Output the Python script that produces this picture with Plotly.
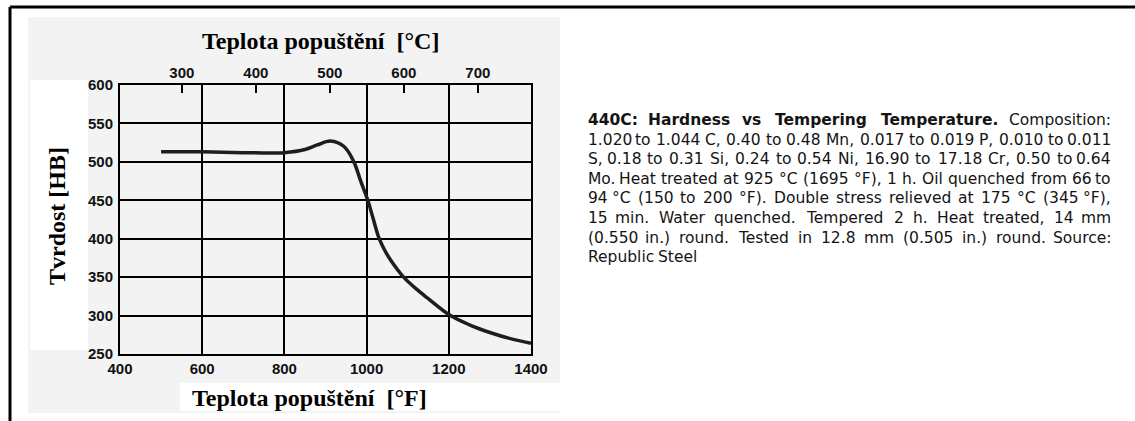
import plotly.graph_objects as go

# Hardness curve of 440C stainless steel vs tempering temperature
temp_f = [500, 600, 700, 800, 850, 880, 912, 945, 969, 985, 1003, 1015, 1030, 1045, 1060, 1075, 1090, 1120, 1150, 1201, 1250, 1300, 1350, 1400]
hardness_hb = [513, 513, 512, 512, 516, 522, 527, 520, 500, 476, 450, 428, 401, 384, 371, 360, 350, 335, 322, 301, 288, 278, 270, 264]

x_ticks_f = [400, 600, 800, 1000, 1200, 1400]
y_ticks_hb = [250, 300, 350, 400, 450, 500, 550, 600]
top_ticks_c = [300, 400, 500, 600, 700]

title_top = "Teplota popuštění  [°C]"
title_bottom = "Teplota popuštění  [°F]"
title_left = "Tvrdost [HB]"

caption_bold = "440C: Hardness vs Tempering Temperature."
caption_lines = [
    "440C: Hardness vs Tempering Temperature. Composition:",
    "1.020 to 1.044 C, 0.40 to 0.48 Mn, 0.017 to 0.019 P, 0.010 to 0.011",
    "S, 0.18 to 0.31 Si, 0.24 to 0.54 Ni, 16.90 to 17.18 Cr, 0.50 to 0.64",
    "Mo. Heat treated at 925 °C (1695 °F), 1 h. Oil quenched from 66 to",
    "94 °C (150 to 200 °F). Double stress relieved at 175 °C (345 °F),",
    "15 min. Water quenched. Tempered 2 h. Heat treated, 14 mm",
    "(0.550 in.) round. Tested in 12.8 mm (0.505 in.) round. Source:",
    "Republic Steel",
]

# page geometry (pixels)
W, H = 1135, 421
L, R, T, B = 120, 531, 85, 354


def px(xp):
    return (xp - L) / (R - L)


def py(yp):
    return (B - yp) / (B - T)


# approximate DejaVu Sans advance widths (em) used to justify the caption
ADV = {" ": .318, ".": .318, ",": .318, ":": .337, "(": .390, ")": .390, "°": .5,
       "A": .684, "C": .698, "D": .770, "F": .575, "H": .752, "M": .863, "N": .748,
       "O": .787, "P": .603, "R": .695, "S": .635, "T": .611, "W": .989,
       "a": .613, "b": .635, "c": .550, "d": .635, "e": .615, "f": .352, "g": .635,
       "h": .634, "i": .278, "k": .579, "l": .278, "m": .974, "n": .634, "o": .612,
       "p": .635, "q": .635, "r": .411, "s": .521, "t": .392, "u": .634, "v": .592,
       "w": .818, "x": .592, "y": .592, "z": .525}
ADV_B = {".": .380, ":": .400, "C": .734, "H": .837, "T": .682, "a": .675, "d": .716,
         "e": .678, "g": .716, "i": .343, "m": 1.042, "n": .712, "p": .716, "r": .493,
         "s": .595, "t": .478, "u": .712, "v": .652}


def word_width(word, size, bold=False):
    total = 0.0
    for ch in word:
        if ch.isdigit():
            total += .696 if bold else .636
        elif bold and ch in ADV_B:
            total += ADV_B[ch]
        else:
            total += ADV.get(ch, .6)
    return total * size


fig = go.Figure()
fig.add_trace(go.Scatter(
    x=temp_f, y=hardness_hb, mode="lines",
    line=dict(color="#1e1e1e", width=3.5, shape="spline", smoothing=1.0),
    hoverinfo="skip", showlegend=False,
))
# invisible trace carrying the Celsius axis
fig.add_trace(go.Scatter(x=[300], y=[400], xaxis="x2", mode="markers",
                         marker=dict(opacity=0), hoverinfo="skip", showlegend=False))

tick_font = dict(family="Liberation Sans, Arial", size=15, color="#111", weight="bold")
serif = dict(family="Liberation Serif, Times New Roman", size=24, color="#000", weight="bold")

fig.update_layout(
    width=W, height=H, autosize=False,
    margin=dict(l=L, r=W - R, t=T, b=H - B, pad=0),
    paper_bgcolor="white", plot_bgcolor="#f4f4f4",
    xaxis=dict(range=[400, 1400], tickvals=x_ticks_f, showgrid=True, gridcolor="#000",
               gridwidth=1.6, showline=True, linecolor="#000", linewidth=2, mirror=True,
               ticks="", tickfont=tick_font, ticklabelstandoff=0, zeroline=False),
    yaxis=dict(range=[250, 600], tickvals=y_ticks_hb, showgrid=True, gridcolor="#000",
               gridwidth=1.6, showline=True, linecolor="#000", linewidth=2, mirror=True,
               ticks="", tickfont=tick_font, ticklabelstandoff=2, zeroline=False),
    xaxis2=dict(overlaying="x", side="top", range=[216.4, 771.9], tickvals=top_ticks_c,
                ticks="inside", ticklen=8, tickwidth=2, tickcolor="#000", showgrid=False,
                showline=False, tickfont=tick_font, ticklabelstandoff=3, zeroline=False),
)

shapes = [
    # scanned page tone and clear strips behind the axis titles
    dict(type="rect", xref="paper", yref="paper", x0=px(28), x1=px(560), y0=py(413), y1=py(17),
         fillcolor="#f3f3f3", line=dict(width=0), layer="below"),
    dict(type="rect", xref="paper", yref="paper", x0=px(30), x1=px(88), y0=py(350), y1=py(80),
         fillcolor="white", line=dict(width=0), layer="below"),
    dict(type="rect", xref="paper", yref="paper", x0=px(180), x1=px(560), y0=py(411), y1=py(383),
         fillcolor="white", line=dict(width=0), layer="below"),
    # outer frame
    dict(type="line", xref="paper", yref="paper", x0=px(10), x1=px(1135), y0=py(7), y1=py(7),
         line=dict(color="#000", width=3)),
    dict(type="line", xref="paper", yref="paper", x0=px(10), x1=px(10), y0=py(7), y1=py(421),
         line=dict(color="#000", width=3)),
]
fig.update_layout(shapes=shapes)

ann = [
    dict(text=title_top, x=px(320), y=py(41), font=serif, xanchor="center", yanchor="middle"),
    dict(text=title_bottom, x=px(309), y=py(398), font=serif, xanchor="center", yanchor="middle"),
    dict(text=title_left, x=px(57), y=py(216), font=serif, textangle=-90,
         xanchor="center", yanchor="middle"),
]

# justified caption block: each word placed so that lines fill the column
cap_size = 15.5
cap_font = dict(family="DejaVu Sans", size=cap_size, color="#141414")
cap_left, cap_right = 586, 1113
n_bold = len(caption_bold.split())
for i, line in enumerate(caption_lines):
    yl = 120 + 19.6 * i
    words = line.split()
    bold = [i == 0 and k < n_bold for k in range(len(words))]
    widths = [word_width(w, cap_size, b) for w, b in zip(words, bold)]
    last = i == len(caption_lines) - 1
    if last or len(words) == 1:
        gap = word_width(" ", cap_size)
    else:
        gap = (cap_right - cap_left - sum(widths)) / (len(words) - 1)
    x = cap_left
    for k, (w, b, wd) in enumerate(zip(words, bold, widths)):
        txt = f"<b>{w}</b>" if b else w
        if not last and k == len(words) - 1 and len(words) > 1:
            ann.append(dict(text=txt, x=px(cap_right), y=py(yl), font=cap_font,
                            xanchor="right", yanchor="middle"))
        elif k == 0:
            ann.append(dict(text=txt, x=px(cap_left), y=py(yl), font=cap_font,
                            xanchor="left", yanchor="middle"))
        else:
            ann.append(dict(text=txt, x=px(x + wd / 2), y=py(yl), font=cap_font,
                            xanchor="center", yanchor="middle"))
        x += wd + gap

for a in ann:
    a.update(xref="paper", yref="paper", showarrow=False)
fig.update_layout(annotations=ann)

fig.write_html("out.html")
